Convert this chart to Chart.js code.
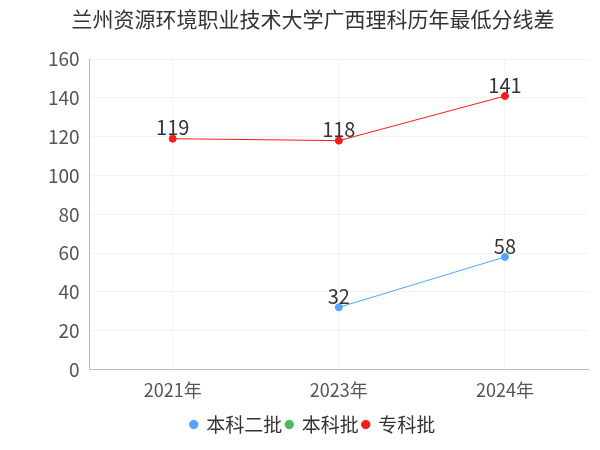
<!DOCTYPE html>
<html>
<head>
<meta charset="utf-8">
<script src="https://cdn.jsdelivr.net/npm/chart.js@4"></script>
<style>
  body { margin: 0; background: #fff; }
  #wrap { width: 600px; height: 450px; }
</style>
</head>
<body>
<div id="wrap"><canvas id="chart"></canvas></div>
<script>
// --- Data ---
const years = ['2021年', '2023年', '2024年'];
const benke2 = [null, 32, 58];
const benke = [null, null, null];
const zhuanke = [119, 118, 141];
const yTicks = [0, 20, 40, 60, 80, 100, 120, 140, 160];

const FONT = '"Noto Sans CJK SC", "Noto Sans", sans-serif';

// draws the value above each point
const pointLabels = {
    id: 'pointLabels',
    afterDatasetsDraw(chart) {
        const ctx = chart.ctx;
        ctx.save();
        ctx.font = `20px ${FONT}`;
        ctx.fillStyle = '#333';
        ctx.textAlign = 'center';
        ctx.textBaseline = 'bottom';
        chart.data.datasets.forEach((ds, i) => {
            chart.getDatasetMeta(i).data.forEach((pt, j) => {
                if (ds.data[j] == null) return;
                ctx.fillText(ds.data[j], pt.x, pt.y - 1);
            });
        });
        ctx.restore();
    }
};

new Chart(document.getElementById('chart'), {
    type: 'line',
    data: {
        labels: years,
        datasets: [
            { label: '本科二批', data: benke2, borderColor: '#4da6ff', backgroundColor: '#4da6ff' },
            { label: '本科批', data: benke, borderColor: '#4cbb5c', backgroundColor: '#4cbb5c' },
            { label: '专科批', data: zhuanke, borderColor: '#ff1a1a', backgroundColor: '#ff1a1a' },
        ].map(d => ({ ...d, borderWidth: 1, pointRadius: 3.5, pointHoverRadius: 3.5, spanGaps: false }))
    },
    options: {
        responsive: true,
        maintainAspectRatio: false,
        animation: false,
        layout: { padding: { left: 38, right: 12, bottom: 6 } },
        plugins: {
            title: {
                display: true,
                text: '兰州资源环境职业技术大学广西理科历年最低分线差',
                color: '#333',
                font: { family: FONT, size: 21, weight: 'normal' },
                padding: { top: 6, bottom: 28 }
            },
            legend: {
                position: 'bottom',
                labels: {
                    usePointStyle: true, pointStyle: 'circle', boxWidth: 6, boxHeight: 6,
                    color: '#333', padding: 4,
                    font: { family: FONT, size: 19 }
                }
            },
            tooltip: { enabled: false }
        },
        scales: {
            x: {
                offset: true,
                grid: { color: '#f3f3f3', drawTicks: false },
                border: { color: '#bbb' },
                ticks: { color: '#555', font: { family: FONT, size: 18 }, padding: 10 }
            },
            y: {
                min: 0, max: 160,
                afterBuildTicks: axis => { axis.ticks = yTicks.map(v => ({ value: v })); },
                grid: { color: '#f3f3f3', drawTicks: false },
                border: { color: '#bbb' },
                ticks: { color: '#555', font: { family: FONT, size: 19 }, padding: 10 }
            }
        }
    },
    plugins: [pointLabels]
});
</script>
</body>
</html>
